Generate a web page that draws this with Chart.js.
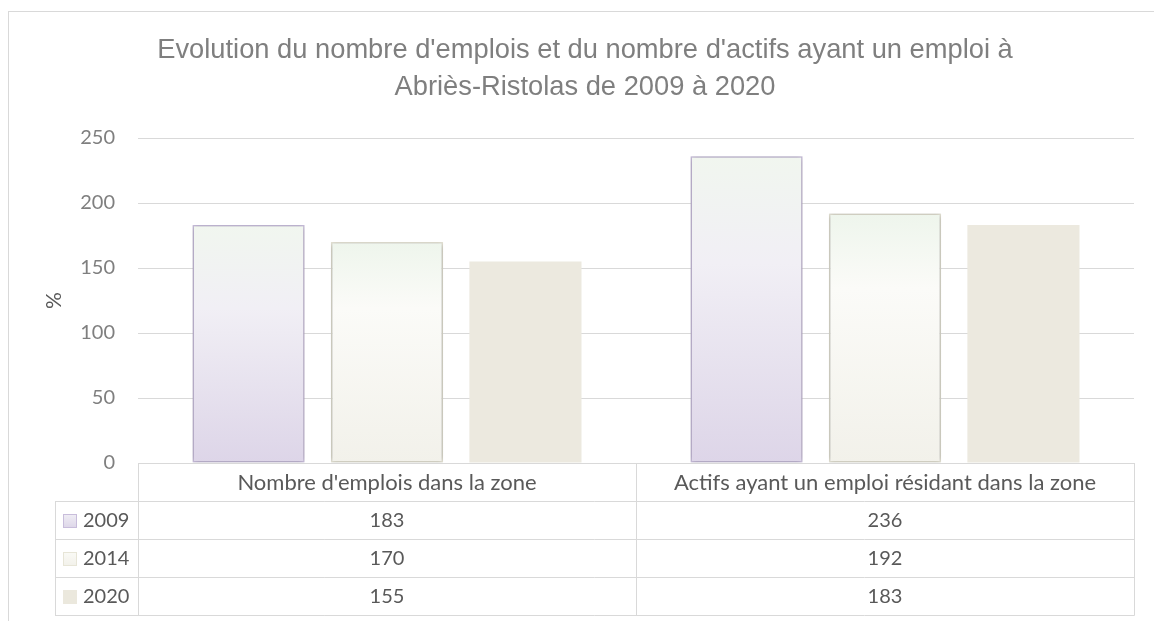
<!DOCTYPE html>
<html lang="fr">
<head>
<meta charset="utf-8">
<title>Emplois et actifs - Abriès-Ristolas</title>
<script src="https://cdn.jsdelivr.net/npm/chart.js@4.4.1/dist/chart.umd.min.js"></script>
<style>
  html, body { margin: 0; padding: 0; background: #fff; }
  #wrap { width: 1154px; height: 621px; }
</style>
</head>
<body>
<div id="wrap"><canvas id="myChart" width="1154" height="621"></canvas></div>
<script>
// Data
const categories = ["Nombre d'emplois dans la zone", "Actifs ayant un emploi résidant dans la zone"];
const years = ['2009', '2014', '2020'];
const values2009 = [183, 236];
const values2014 = [170, 192];
const values2020 = [155, 183];
const yTicks = [0, 50, 100, 150, 200, 250];
const titleLines = ["Evolution du nombre d'emplois et du nombre d'actifs ayant un emploi à", 'Abriès-Ristolas de 2009 à 2020'];

const GRID = '#d9d9d9';
const TEXT = '#595959';

// vertical gradient running from the top of each bar down to the baseline
function barGradient(stops) {
    return function (ctx) {
        const chart = ctx.chart;
        if (ctx.type !== 'data' || !chart.chartArea) return stops[stops.length - 1][1];
        const y = chart.scales.y;
        const g = chart.ctx.createLinearGradient(0, y.getPixelForValue(ctx.raw), 0, y.getPixelForValue(0));
        stops.forEach(s => g.addColorStop(s[0], s[1]));
        return g;
    };
}

const series = [
    { label: years[0], data: values2009, shadow: true,
      fill: barGradient([[0, '#f1f6ef'], [0.35, '#f1eff5'], [1, '#ddd5e8']]),
      border: '#c8bddb', borderWidth: 1.5, marker: ['#f0eef5', '#ddd6e8'] },
    { label: years[1], data: values2014, shadow: true,
      fill: barGradient([[0, '#eef5ec'], [0.3, '#fbfbf8'], [1, '#f2f1ea']]),
      border: '#e7e5d7', borderWidth: 1.5, marker: ['#fafaf6', '#f2f1ea'] },
    { label: years[2], data: values2020, shadow: false,
      fill: '#ece9df', border: '#ece9df', borderWidth: 0, marker: ['#ebe8dd', '#ebe8dd'] }
];

// soft drop shadow under the first two series
const barShadow = {
    id: 'barShadow',
    beforeDatasetDraw(chart, args) {
        if (!series[args.index].shadow) return;
        const c = chart.ctx;
        c.save();
        c.shadowColor = 'rgba(0,0,0,0.3)';
        c.shadowBlur = 5;
        c.shadowOffsetX = 0;
        c.shadowOffsetY = 0;
    },
    afterDatasetDraw(chart, args) {
        if (series[args.index].shadow) chart.ctx.restore();
    }
};

// white background and the light frame round the chart
const frame = {
    id: 'frame',
    beforeDraw(chart) {
        const c = chart.ctx;
        c.save();
        c.fillStyle = '#fff';
        c.fillRect(0, 0, chart.width, chart.height);
        c.strokeStyle = GRID;
        c.lineWidth = 1;
        c.strokeRect(8.5, 11.5, chart.width + 20, chart.height + 20);
        c.restore();
    }
};

// data table under the x axis: category header + one row per year
const dataTable = {
    id: 'dataTable',
    afterDraw(chart) {
        const c = chart.ctx;
        const area = chart.chartArea;
        const xs = chart.scales.x;
        const left = Math.round(area.left), right = Math.round(area.right);
        const mid = Math.round((xs.getPixelForValue(0) + xs.getPixelForValue(1)) / 2);
        const top = Math.round(area.bottom);
        const rowH = 38;
        const labelLeft = 55;
        const bottom = top + rowH * (series.length + 1);

        c.save();
        c.strokeStyle = GRID;
        c.lineWidth = 1;
        c.beginPath();
        c.moveTo(left, top + 0.5); c.lineTo(right, top + 0.5);
        for (let i = 1; i <= series.length + 1; i++) {
            const y = top + rowH * i + 0.5;
            c.moveTo(labelLeft, y); c.lineTo(right + 0.5, y);
        }
        c.moveTo(labelLeft + 0.5, top + rowH); c.lineTo(labelLeft + 0.5, bottom + 0.5);
        [left, mid, right].forEach(x => { c.moveTo(x + 0.5, top); c.lineTo(x + 0.5, bottom + 0.5); });
        c.stroke();

        c.fillStyle = TEXT;
        c.font = '22px Lato';
        c.textBaseline = 'middle';
        c.textAlign = 'center';
        const centers = [(left + mid) / 2, (mid + right) / 2];
        categories.forEach((cat, i) => c.fillText(cat, centers[i], top + rowH / 2 + 1));

        c.font = '20px Lato';
        series.forEach((s, r) => {
            const cy = top + rowH * (r + 1) + rowH / 2 + 1;
            // legend key
            const g = c.createLinearGradient(0, cy - 7, 0, cy + 7);
            g.addColorStop(0, s.marker[0]);
            g.addColorStop(1, s.marker[1]);
            c.fillStyle = g;
            c.fillRect(63, cy - 7, 14, 14);
            if (s.borderWidth) {
                c.strokeStyle = s.border;
                c.strokeRect(63.5, cy - 6.5, 13, 13);
            }
            c.fillStyle = TEXT;
            c.textAlign = 'left';
            c.fillText(s.label, 83, cy);
            c.textAlign = 'center';
            s.data.forEach((v, i) => c.fillText(String(v), centers[i], cy));
        });
        c.restore();
    }
};

new Chart(document.getElementById('myChart'), {
    type: 'bar',
    data: {
        labels: categories,
        datasets: series.map(s => ({
            label: s.label,
            data: s.data,
            backgroundColor: s.fill,
            borderColor: s.border,
            borderWidth: s.borderWidth,
            borderSkipped: false,
            categoryPercentage: 0.834,
            barPercentage: 0.81
        }))
    },
    options: {
        responsive: false,
        animation: false,
        devicePixelRatio: 1,
        layout: { padding: { left: 36, right: 20, top: 0, bottom: 158 } },
        plugins: {
            legend: { display: false },
            tooltip: { enabled: false },
            title: {
                display: true,
                text: titleLines,
                color: '#7f7f7f',
                font: { family: 'Liberation Sans', size: 27.3, weight: 'normal', lineHeight: '37px' },
                padding: { top: 32, bottom: 32 }
            }
        },
        scales: {
            x: { display: false },
            y: {
                min: 0,
                max: 250,
                afterBuildTicks(scale) { scale.ticks = yTicks.map(v => ({ value: v })); },
                afterFit(scale) { scale.width = 102; },
                ticks: { padding: 23, color: '#7f7f7f', font: { family: 'Lato', size: 20 } },
                grid: { color: GRID, drawTicks: false },
                border: { display: false },
                title: {
                    display: true,
                    text: '%',
                    color: TEXT,
                    font: { family: 'Lato', size: 21 },
                    padding: { top: 6, bottom: 0 }
                }
            }
        }
    },
    plugins: [frame, barShadow, dataTable]
});
</script>
</body>
</html>
